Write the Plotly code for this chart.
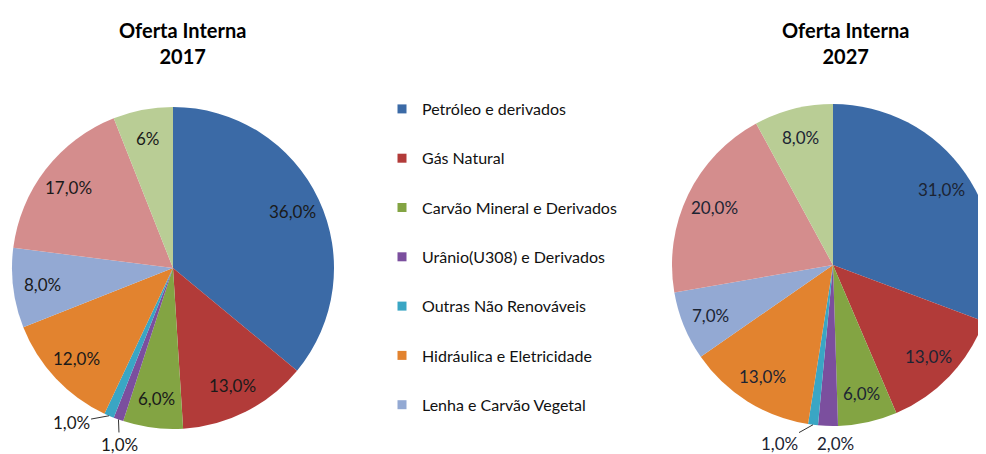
import math
import plotly.graph_objects as go

categories = ["Petróleo e derivados", "Gás Natural", "Carvão Mineral e Derivados",
              "Urânio(U308) e Derivados", "Outras Não Renováveis",
              "Hidráulica e Eletricidade", "Lenha e Carvão Vegetal",
              "Derivados da Cana", "Outras Renováveis"]
values_2017 = [36, 13, 6, 1, 1, 12, 8, 17, 6]
labels_2017 = ["36,0%", "13,0%", "6,0%", "1,0%", "1,0%", "12,0%", "8,0%", "17,0%", "6%"]
values_2027 = [31, 13, 6, 2, 1, 13, 7, 20, 8]
labels_2027 = ["31,0%", "13,0%", "6,0%", "2,0%", "1,0%", "13,0%", "7,0%", "20,0%", "8,0%"]
legend_items = categories[:7]
titles = ["Oferta Interna<br>2017", "Oferta Interna<br>2027"]

colors = ["#3B6AA6", "#B23B39", "#83A443", "#7B4F9E", "#3AA6C4",
          "#E2832F", "#93A9D3", "#D48D8D", "#B9CD95"]

FONT = "Lato"
W, H = 986, 446
OFF = 8  # default page margin of the html body


def px(sx):
    return (sx - OFF) / W


def py(sy):
    return 1 - (sy - OFF) / H


pies = [
    dict(cx=173, cy=268, r=161, values=values_2017, labels=labels_2017,
         title=titles[0], tx=182, tcolor="#1a1a1a",
         small={4: (-38, 7, True), 3: (1, 25, True)}),
    dict(cx=833, cy=265, r=161, values=values_2027, labels=labels_2027,
         title=titles[1], tx=845, tcolor="#1c2433",
         small={4: (-34, 19, True), 3: (8, 18, False)}),
]

fig = go.Figure()

for p in pies:
    cx, cy, r = p["cx"], p["cy"], p["r"]
    fig.add_trace(go.Pie(
        labels=categories, values=p["values"], textinfo="none",
        sort=False, direction="clockwise", rotation=0,
        marker=dict(colors=colors, line=dict(width=0)),
        domain=dict(x=[px(cx - r), min(1, px(cx + r))],
                    y=[py(cy + r), py(cy - r)]),
        showlegend=False, hoverinfo="label+percent",
    ))
    total = sum(p["values"])
    cum = 0
    for i, (v, lab) in enumerate(zip(p["values"], p["labels"])):
        mid = (cum + v / 2) / total * 2 * math.pi
        cum += v
        sx, sy = math.sin(mid), -math.cos(mid)
        if i in p["small"]:
            dx, dy, arrow = p["small"][i]
            ex, ey = cx + r * sx, cy + r * sy
            if arrow:
                fig.add_annotation(
                    x=px(ex), y=py(ey), xref="paper", yref="paper",
                    ax=dx, ay=dy, text=lab, showarrow=True, arrowhead=0,
                    arrowwidth=1, arrowcolor="#333333", standoff=0,
                    font=dict(family=FONT, size=17, color=p["tcolor"]))
            else:
                fig.add_annotation(
                    x=px(ex + dx), y=py(ey + dy), xref="paper", yref="paper",
                    xanchor="center", yanchor="middle",
                    text=lab, showarrow=False,
                    font=dict(family=FONT, size=17, color=p["tcolor"]))
        else:
            lr = 0.82 * r
            fig.add_annotation(
                x=px(cx + lr * sx), y=py(cy + lr * sy),
                xref="paper", yref="paper", text=lab, showarrow=False,
                xanchor="center", yanchor="middle",
                font=dict(family=FONT, size=17, color=p["tcolor"]))
    fig.add_annotation(
        x=px(p["tx"]), y=py(16), xref="paper", yref="paper",
        xanchor="center", yanchor="top",
        text="<b>" + p["title"].replace("<br>", "</b><br><b>") + "</b>",
        showarrow=False, align="center",
        font=dict(family=FONT, size=20, color="#000000"))

for i, name in enumerate(legend_items):
    fig.add_trace(go.Scatter(
        x=[None], y=[None], mode="markers", name=name,
        marker=dict(symbol="square", size=9, color=colors[i]),
        legendgroup=name, showlegend=True,
    ))

fig.update_layout(
    width=W, height=H, margin=dict(l=0, r=0, t=0, b=0),
    paper_bgcolor="white", plot_bgcolor="white",
    xaxis=dict(visible=False), yaxis=dict(visible=False),
    legend=dict(x=px(382), y=py(92), xanchor="left", yanchor="top",
                font=dict(family=FONT, size=16, color="#111111"),
                tracegroupgap=25.5, itemclick=False, bgcolor="rgba(0,0,0,0)"),
    font=dict(family=FONT),
    hovermode=False,
)

fig.write_html("out.html")
